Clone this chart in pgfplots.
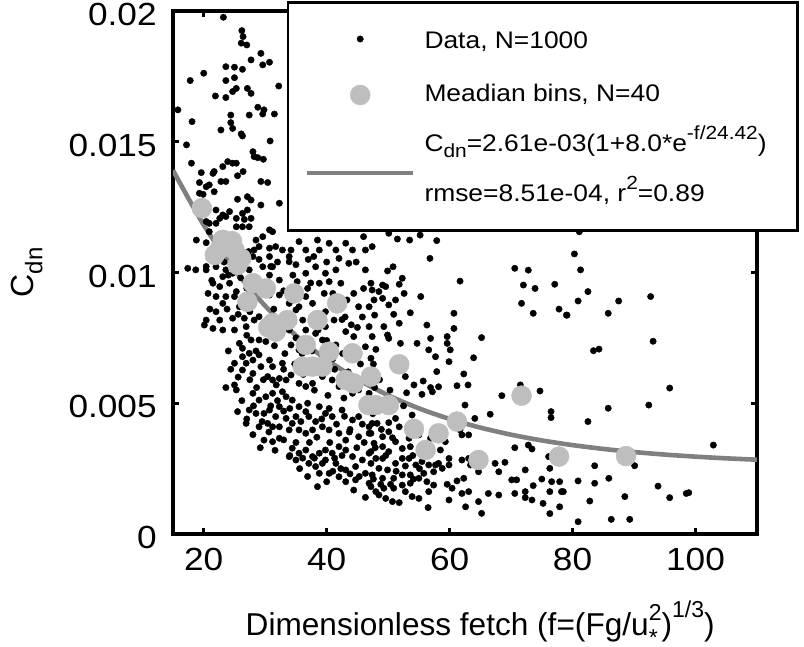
\documentclass[border=0pt]{standalone}
\usepackage{fontspec}
\setmainfont{Liberation Sans}[FakeStretch=1.1]
\newfontfamily\lab{Liberation Sans}
\usepackage{pgfplots}
\pgfplotsset{compat=1.18}
\definecolor{bingray}{RGB}{190,190,190}
\definecolor{fitgray}{RGB}{128,128,128}
\pgfplotsset{
  marklegend/.style={legend image code/.code={\draw[mark repeat=2,mark phase=2,##1] plot coordinates {(0pt,0pt) (26.5pt,0pt) (53pt,0pt)};}},
  linelegend/.style={legend image code/.code={\draw[##1] (0pt,0pt) -- (53pt,0pt);}},
}
\newcommand{\lsub}[1]{\raisebox{-0.5ex}{\fontsize{9.5}{9.5}\selectfont #1}}
\newcommand{\lsup}[1]{\raisebox{0.95ex}{\fontsize{9.5}{9.5}\selectfont #1}}
\begin{document}
\begin{tikzpicture}
\useasboundingbox (-86.5pt,-56.5pt) rectangle (315.5pt,267pt);
\begin{axis}[
  at={(0pt,0pt)}, anchor=south west,
  scale only axis, width=292pt, height=261.5pt,
  xmin=15, xmax=110, ymin=0, ymax=20,
  xtick={20,40,60,80,100}, ytick={0,5,10,15,20},
  yticklabels={0,0.005,0.01,0.015,0.02},
  tick align=inside, major tick length=3pt,
  tick style={line width=1.5pt, black},
  axis line style={line width=2pt},
  ticklabel style={font=\fontsize{16}{19}\selectfont},
  yticklabel style={inner xsep=0pt, xshift=-8pt, yshift=-1.8pt},
  xticklabel style={inner ysep=0pt, yshift=-7pt},
  /pgf/number format/assume math mode=true,
  xlabel={Dimensionless fetch (f=(Fg/u\rlap{\raisebox{-0.6ex}{\fontsize{11.5}{11.5}\selectfont *}}\raisebox{0.9ex}{\fontsize{11.5}{11.5}\selectfont 2})\raisebox{1.05ex}{\fontsize{11.5}{11.5}\selectfont 1/3})},
  xlabel style={at={(axis description cs:0.526,-0.194)}, anchor=base, font=\lab\fontsize{15.8}{19}\selectfont, inner sep=0pt},
  ylabel={C\raisebox{-0.55ex}{\fontsize{12}{12}\selectfont dn}},
  ylabel style={at={(axis description cs:-0.2226,0.5)}, anchor=south, font=\lab\fontsize{16}{19}\selectfont, inner sep=0pt},
  legend style={at={(rel axis cs:1.0719,1.0191)}, anchor=north east,
    draw=black, line width=1.3pt, fill=white,
    inner xsep=8.5pt, inner ysep=11.6pt, row sep=16pt, column sep=0.5pt,
    font=\fontsize{12}{25}\selectfont,
    nodes={inner xsep=4pt, inner ysep=0pt},
    cells={anchor=west}},
  legend cell align=left,
]
\addplot[only marks, mark=*, mark size=1.6pt, black, line width=0.2pt, marklegend] table {
x y
23.2 19.76
26.2 19.25
26.4 19.02
26.1 18.77
27.0 18.70
29.3 18.38
23.6 17.87
25.0 17.85
26.3 17.77
27.7 18.13
29.6 17.94
30.7 18.04
20.0 17.62
17.8 17.34
23.6 17.34
25.0 17.45
25.3 17.04
24.7 16.92
27.1 17.04
27.7 16.85
21.9 16.75
23.6 16.69
32.2 17.13
15.8 16.22
28.8 16.32
29.8 16.22
29.6 16.06
31.5 16.06
24.4 16.02
27.4 16.02
18.1 15.77
24.4 15.73
24.7 15.51
22.8 15.45
26.1 15.30
26.3 15.22
30.8 15.03
17.2 14.88
28.0 14.62
28.2 14.43
28.8 14.39
18.0 14.18
23.9 14.24
24.7 14.18
25.3 14.18
23.1 14.05
29.7 14.33
26.4 13.86
19.6 13.82
21.7 13.86
21.5 13.79
25.5 13.70
19.3 13.44
20.4 13.28
20.9 13.35
22.8 13.48
23.6 13.48
29.3 13.48
30.4 13.44
21.7 13.09
19.3 13.03
19.9 12.99
27.1 12.90
25.5 12.80
27.7 12.77
29.3 12.58
32.3 12.65
27.1 12.39
26.3 12.26
22.0 12.39
23.1 12.20
24.2 12.33
22.6 12.07
23.6 12.14
25.3 12.07
26.6 12.03
27.7 12.07
20.4 11.95
20.9 11.88
22.0 11.88
25.3 11.75
26.3 11.75
27.4 11.75
30.7 11.63
31.2 11.56
20.9 11.56
18.8 11.24
20.4 11.14
28.5 11.24
29.6 11.37
29.0 10.99
28.2 10.86
28.0 10.61
24.2 10.86
22.6 10.54
30.7 10.93
31.7 10.99
32.8 10.86
34.2 10.86
35.5 11.18
36.6 10.86
38.5 11.24
38.8 10.86
40.4 11.12
41.5 10.86
43.1 11.12
44.2 10.86
46.0 11.37
46.3 10.86
30.7 10.61
33.9 10.61
37.9 10.61
42.0 10.54
17.4 10.16
20.4 10.23
30.9 10.23
18.7 10.10
20.4 10.10
22.0 10.22
23.6 10.10
24.7 9.97
27.4 10.10
29.6 10.22
31.2 10.22
33.9 10.41
36.6 9.97
38.2 10.22
39.8 9.97
41.5 10.10
43.6 10.35
46.3 10.10
21.5 9.59
23.1 9.84
24.2 9.59
22.6 9.46
25.3 9.27
28.8 9.71
30.7 9.90
32.3 9.71
35.2 9.65
36.9 9.39
38.8 9.59
40.4 9.65
42.3 9.59
44.4 9.20
46.0 9.39
20.7 9.20
22.0 9.08
23.6 9.08
23.1 8.82
25.0 9.08
25.8 8.69
28.0 8.82
30.7 9.14
32.3 9.14
33.9 8.82
35.5 8.69
36.6 9.08
37.7 8.82
39.6 9.20
43.3 8.95
45.2 8.69
46.9 8.69
20.4 8.18
20.1 7.99
21.5 7.86
22.6 8.18
23.1 7.80
24.7 8.25
25.0 7.80
26.6 8.25
26.9 7.93
28.2 8.18
29.0 8.31
35.0 8.57
36.1 8.18
36.6 7.80
38.2 7.67
39.8 7.93
41.2 8.18
43.1 7.74
44.4 7.55
46.9 7.93
25.8 7.29
26.3 7.10
27.7 7.42
29.0 7.42
30.1 7.36
33.9 7.80
34.2 7.23
35.5 7.04
37.1 7.29
39.3 7.42
41.5 7.23
44.2 7.04
46.3 7.16
25.0 6.53
26.3 6.78
27.4 6.91
26.9 6.53
28.0 6.65
29.0 6.85
29.3 6.40
30.7 6.65
31.2 6.40
32.8 6.53
26.3 6.27
28.0 6.14
30.4 6.02
31.2 5.89
32.3 5.95
33.4 5.89
34.2 6.08
35.5 5.76
36.6 5.64
37.7 5.76
39.3 6.02
40.9 5.89
42.0 5.64
44.2 5.38
45.2 5.51
46.9 5.38
25.0 5.70
25.3 5.51
28.0 5.38
29.0 5.12
30.1 5.25
31.2 5.38
32.8 5.44
33.4 5.25
34.4 5.12
35.5 4.87
36.6 4.68
37.1 4.49
38.8 4.87
39.8 4.61
40.9 4.49
42.5 4.74
44.2 4.36
45.2 4.49
46.9 4.10
25.5 4.68
27.4 4.74
28.5 4.61
29.8 4.61
30.7 4.74
31.7 4.49
32.3 4.87
33.4 4.42
34.4 4.23
35.0 4.49
26.9 4.23
29.0 4.10
30.4 4.23
31.2 4.10
32.3 4.10
33.9 3.98
35.5 3.98
36.6 3.85
37.7 3.98
39.3 4.10
40.4 3.98
42.0 3.85
43.1 3.59
45.2 3.72
46.9 3.85
29.8 3.59
31.2 3.53
32.3 3.66
34.4 3.28
35.5 3.09
36.6 3.21
37.7 2.96
38.8 3.09
39.8 3.21
40.9 3.09
42.0 3.34
43.1 3.21
44.2 2.96
45.8 2.83
46.9 3.09
33.9 2.96
35.0 2.83
37.1 2.70
38.2 2.58
39.8 2.83
41.5 2.70
43.1 2.45
44.7 2.58
46.3 2.32
38.8 2.32
40.4 2.32
42.0 2.19
43.1 2.00
44.7 2.07
46.9 1.94
38.5 1.81
44.4 1.68
46.3 1.40
50.1 11.50
51.5 11.28
53.5 11.24
55.2 11.43
57.9 11.22
47.4 10.99
56.8 10.54
50.8 10.22
49.9 10.06
52.3 9.78
47.2 9.59
49.1 9.52
49.6 9.46
51.8 9.55
47.4 9.33
48.5 9.27
52.6 9.20
55.3 9.08
47.7 8.95
49.1 9.01
50.1 8.76
51.2 8.95
47.8 8.37
50.9 8.40
53.6 8.46
49.3 7.93
51.8 8.06
49.9 7.61
50.1 7.48
47.4 7.55
52.0 7.29
54.7 7.29
56.3 7.99
56.9 7.48
59.6 7.55
59.6 7.29
60.7 8.44
60.7 7.86
61.7 9.67
56.6 7.04
60.1 7.04
57.7 6.78
59.9 6.59
48.0 7.06
47.2 6.72
52.8 6.02
57.9 6.21
62.3 6.12
63.9 6.74
65.2 7.51
70.6 10.16
72.8 10.09
72.0 9.52
73.9 9.39
77.1 9.55
71.7 8.82
73.6 8.44
77.8 8.60
79.0 8.37
54.2 5.70
55.7 5.85
56.9 5.60
57.2 5.44
58.2 5.63
55.5 5.34
61.2 5.67
63.0 5.70
62.5 4.93
66.6 4.58
64.1 4.42
68.5 5.29
71.5 5.70
74.7 5.47
76.5 4.68
76.5 4.45
53.9 4.55
51.2 4.42
50.1 4.26
48.2 4.23
47.4 4.23
51.8 4.10
50.1 3.91
47.2 3.85
49.1 3.72
50.7 3.68
51.2 3.53
53.4 3.66
55.0 3.79
56.9 3.66
59.3 3.53
62.0 3.79
63.1 3.79
61.7 3.98
47.7 3.47
47.2 3.15
49.1 3.34
50.1 3.15
52.3 3.27
53.6 3.34
58.5 3.21
59.9 2.89
58.2 2.70
57.7 2.64
57.4 2.38
58.8 2.51
59.9 2.64
55.5 2.77
56.6 2.64
54.5 2.64
53.4 2.89
52.3 2.89
51.2 2.70
49.1 2.89
48.0 2.89
47.2 2.70
48.5 2.51
49.9 2.45
47.4 2.26
49.1 2.13
50.9 2.13
52.3 2.26
53.6 2.26
55.0 2.13
55.8 2.32
56.3 2.00
57.4 1.87
53.6 1.94
52.3 1.87
50.9 1.75
49.3 1.75
48.0 1.62
47.2 1.81
48.5 1.49
49.6 1.36
50.7 1.24
51.8 1.20
52.8 1.62
53.9 1.43
55.0 1.36
56.6 1.62
56.5 1.01
59.6 1.90
61.2 2.03
62.3 2.13
62.0 2.83
63.1 2.89
63.4 2.64
64.2 2.77
64.7 2.38
67.4 2.70
68.0 2.38
69.0 2.74
70.6 3.30
72.8 3.40
73.4 3.25
76.1 2.96
76.3 2.51
72.3 2.45
70.1 2.07
70.9 2.07
75.0 2.10
76.6 2.00
73.6 1.85
77.9 2.00
78.2 1.62
76.3 1.62
72.3 1.62
70.6 1.55
72.3 1.39
73.4 1.30
75.2 1.17
77.9 1.04
76.3 0.78
66.3 1.55
68.0 1.49
64.7 1.24
63.1 1.62
62.0 1.55
62.6 1.04
65.2 0.79
59.9 1.30
60.4 1.75
80.3 10.71
81.3 10.10
82.5 9.27
80.9 8.91
79.1 8.37
87.5 8.91
85.8 8.44
92.7 9.08
83.4 7.01
84.3 7.07
93.1 7.37
95.8 5.58
92.4 4.93
85.8 4.81
82.5 4.30
102.9 3.40
83.6 2.61
90.1 2.61
80.9 2.03
83.6 1.94
85.9 2.13
93.9 1.83
82.8 1.26
88.5 1.43
95.8 1.39
98.5 1.55
98.9 1.58
80.9 0.47
86.3 0.56
89.3 0.56
78.5 1.62
81.1 11.56
27.5 5.9
28.6 5.6
29.7 5.9
31.8 5.7
33.0 6.3
34.8 6.5
36.2 6.1
38.0 5.5
38.5 6.6
40.2 5.3
41.3 6.3
42.8 5.2
43.5 6.2
45.7 5.9
47.8 5.6
26.2 5.1
27.0 4.4
28.1 4.9
29.5 4.3
30.9 4.9
32.0 5.1
33.0 4.7
34.0 4.8
35.8 4.3
36.9 5.0
38.2 4.3
39.2 4.4
40.4 4.8
41.6 4.2
42.9 4.5
43.8 4.0
45.8 4.2
47.5 4.6
48.9 4.0
28.0 3.8
29.2 3.3
30.6 3.9
31.6 3.2
33.0 3.6
34.0 3.0
35.0 3.5
36.1 2.9
37.2 3.5
38.4 3.7
39.3 2.7
40.5 3.5
41.3 2.9
42.5 3.0
43.7 3.9
44.9 3.3
46.1 3.5
47.9 3.3
49.6 3.0
35.6 2.5
36.9 2.2
38.0 2.9
40.0 2.0
41.0 2.4
42.3 2.5
43.8 2.3
45.3 2.2
47.6 2.1
48.8 1.9
50.4 1.9
51.3 2.4
52.8 2.6
54.1 2.1
55.1 2.5
54.0 3.0
55.9 3.0
57.0 3.3
24.0 7.0
24.4 6.3
23.6 5.6
25.6 6.0
27.0 7.6
28.5 7.0
29.8 7.8
31.5 7.2
32.7 7.7
33.2 6.9
35.0 7.5
36.0 6.9
37.6 7.0
38.6 7.8
40.0 7.4
41.0 6.7
42.6 6.9
43.0 8.3
45.0 7.9
45.5 6.5
47.6 6.5
48.6 5.9
50.3 5.5
52.5 4.9
53.0 5.4
51.0 4.8
21.0 8.6
22.0 8.5
23.8 8.6
25.6 8.4
27.5 8.5
21.3 9.7
24.0 9.9
26.0 9.8
27.0 9.4
29.3 9.6
31.4 8.6
33.0 9.3
34.5 9.9
37.4 9.6
39.8 8.5
41.0 9.2
42.5 8.2
44.0 8.0
45.8 8.3
22.2 10.6
23.3 10.4
25.5 10.6
27.3 10.8
29.0 10.5
32.0 10.4
35.0 10.3
37.0 10.5
40.0 10.4
44.8 10.4
};
\addlegendentry[text height=11.5pt, text depth=2pt]{Data, N=1000}
\addplot[only marks, mark=*, mark size=5pt, color=bingray, line width=0.2pt, marklegend] table {
x y
19.7 12.46
21.8 10.67
22.6 10.90
23.1 11.25
24.6 11.20
25.0 10.86
26.1 10.54
25.5 10.29
28.0 9.59
30.1 9.39
27.1 8.88
34.7 9.20
30.5 7.90
31.2 8.06
31.7 7.74
33.6 8.18
38.5 8.18
41.7 8.82
36.6 7.23
40.4 6.97
44.2 6.91
36.1 6.40
37.7 6.40
39.3 6.40
43.1 5.89
44.4 5.76
46.8 4.93
51.8 6.49
47.2 6.02
48.0 4.93
50.1 4.93
54.2 4.02
58.2 3.85
56.1 3.21
61.2 4.30
64.7 2.83
71.7 5.29
77.8 2.96
88.7 2.98
};
\addlegendentry[text height=8.5pt, text depth=2pt]{Meadian bins, N=40}
\addplot[fitgray, line width=2.3pt, smooth, linelegend] table {
x y
15 13.906
20 11.816
25 10.111
30 8.722
35 7.590
40 6.669
45 5.917
50 5.304
55 4.805
60 4.399
65 4.068
70 3.798
75 3.578
80 3.399
85 3.253
90 3.134
95 3.037
100 2.958
105 2.893
110 2.841
};
\addlegendentry[text height=7pt, text depth=28pt, yshift=0.2pt]{\vtop{\baselineskip=25pt\hbox{C\lsub{dn}=2.61e-03(1+8.0*e\lsup{-f/24.42})\hspace{3pt}}\hbox{rmse=8.51e-04, r\lsup{2}=0.89}}}
\end{axis}
\end{tikzpicture}
\end{document}
